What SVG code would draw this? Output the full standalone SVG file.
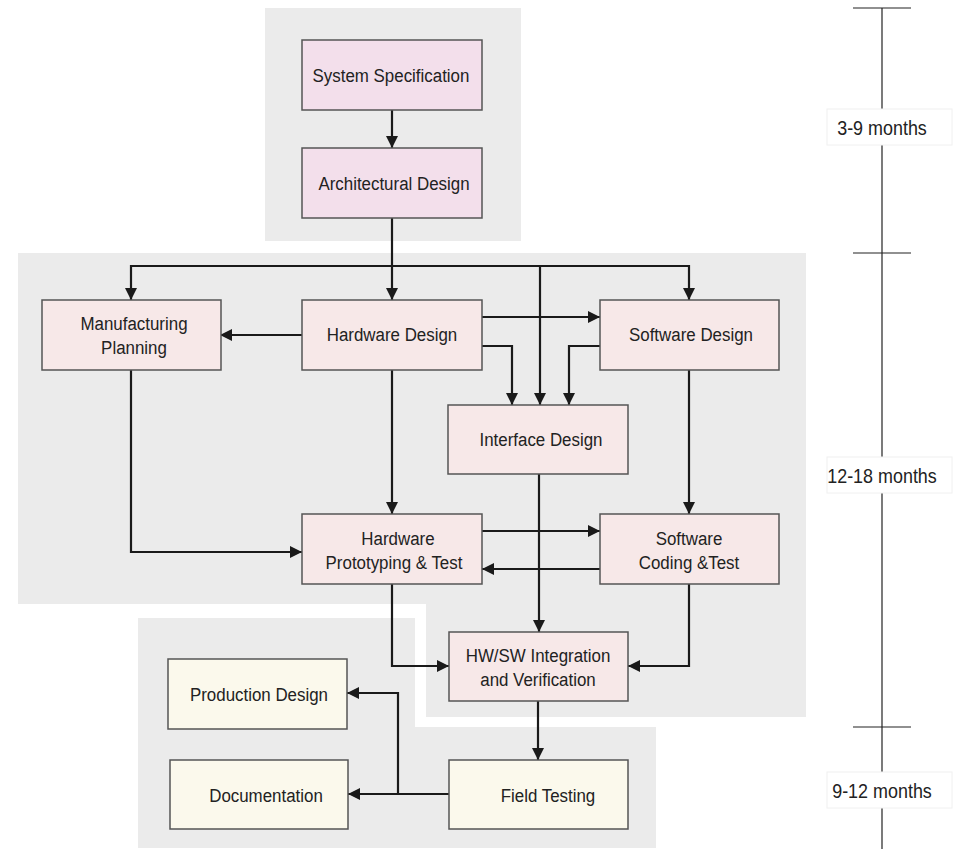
<svg xmlns="http://www.w3.org/2000/svg" width="953" height="849" viewBox="0 0 953 849">
<style>
.bg{fill:#ebebeb;stroke:none}
.n rect{stroke:#555;stroke-width:1.5}
.p1{fill:#f3dfeb}
.p2{fill:#f7e8e8}
.p3{fill:#fbf9ec}
text{font-family:"Liberation Sans",Arial,sans-serif;font-size:19px;fill:#222;text-anchor:middle;transform-box:fill-box;transform-origin:center;transform:scale(0.89,1)}
.c path{fill:none;stroke:#1a1a1a;stroke-width:2.2}
.tl line{stroke:#222;stroke-width:1.2}
.tl rect{fill:#fff;stroke:#f0f0f0;stroke-width:1}
.tl text{font-size:19.5px;transform:scale(0.92,1)}
</style>
<defs>
<marker id="a" markerUnits="userSpaceOnUse" markerWidth="12" markerHeight="12" refX="12" refY="6" orient="auto">
<path d="M0,0 L12,6 L0,12 Z" fill="#1a1a1a"/>
</marker>
</defs>
<g id="regions">
<rect class="bg" x="265" y="8" width="256" height="233"/>
<path class="bg" d="M18,253 H806 V717 H426 V604 H18 Z"/>
<path class="bg" d="M138,618 H415 V727 H656 V848 H138 Z"/>
</g>
<g id="timeline" class="tl">
<line x1="882" y1="8" x2="882" y2="849"/>
<line x1="853" y1="8" x2="911" y2="8"/>
<line x1="853" y1="253" x2="911" y2="253"/>
<line x1="853" y1="727" x2="911" y2="727"/>
<rect x="827" y="109" width="125" height="36"/>
<text x="882" y="135">3-9 months</text>
<rect x="827" y="457" width="125" height="36"/>
<text x="882" y="483">12-18 months</text>
<rect x="827" y="772" width="125" height="36"/>
<text x="882" y="798">9-12 months</text>
</g>
<g id="connectors" class="c">
<path d="M392,110 V148" marker-end="url(#a)"/>
<path d="M392,218 V300" marker-end="url(#a)"/>
<path d="M392,266 H131 V300" marker-end="url(#a)"/>
<path d="M392,266 H689 V300" marker-end="url(#a)"/>
<path d="M540,266 V405" marker-end="url(#a)"/>
<path d="M482,317 H600" marker-end="url(#a)"/>
<path d="M482,346 H512 V405" marker-end="url(#a)"/>
<path d="M600,346 H569 V405" marker-end="url(#a)"/>
<path d="M302,335 H220" marker-end="url(#a)"/>
<path d="M131,370 V552 H302" marker-end="url(#a)"/>
<path d="M392,370 V514" marker-end="url(#a)"/>
<path d="M689,370 V514" marker-end="url(#a)"/>
<path d="M539,474 V632" marker-end="url(#a)"/>
<path d="M482,531 H600" marker-end="url(#a)"/>
<path d="M600,569 H482" marker-end="url(#a)"/>
<path d="M392,584 V666 H449" marker-end="url(#a)"/>
<path d="M689,584 V666 H628" marker-end="url(#a)"/>
<path d="M538,701 V760" marker-end="url(#a)"/>
<path d="M449,794 H348" marker-end="url(#a)"/>
<path d="M398,794 V693 H347" marker-end="url(#a)"/>
</g>
<g id="system-specification" class="n"><rect class="p1" x="302" y="40" width="180" height="70"/><text x="391" y="82">System Specification</text></g>
<g id="architectural-design" class="n"><rect class="p1" x="302" y="148" width="180" height="70"/><text x="394" y="190">Architectural Design</text></g>
<g id="manufacturing-planning" class="n"><rect class="p2" x="42" y="300" width="179" height="70"/><text x="134" y="330">Manufacturing</text><text x="134" y="354">Planning</text></g>
<g id="hardware-design" class="n"><rect class="p2" x="302" y="300" width="180" height="70"/><text x="392" y="341">Hardware Design</text></g>
<g id="software-design" class="n"><rect class="p2" x="600" y="300" width="179" height="70"/><text x="691" y="341">Software Design</text></g>
<g id="interface-design" class="n"><rect class="p2" x="448" y="405" width="180" height="69"/><text x="541" y="446">Interface Design</text></g>
<g id="hardware-prototyping" class="n"><rect class="p2" x="302" y="514" width="180" height="70"/><text x="398" y="545">Hardware</text><text x="394" y="569">Prototyping &amp; Test</text></g>
<g id="software-coding" class="n"><rect class="p2" x="600" y="514" width="179" height="70"/><text x="689" y="545">Software</text><text x="689" y="569">Coding &amp;Test</text></g>
<g id="hwsw-integration" class="n"><rect class="p2" x="449" y="632" width="179" height="69"/><text x="538" y="662">HW/SW Integration</text><text x="538" y="686">and Verification</text></g>
<g id="production-design" class="n"><rect class="p3" x="168" y="659" width="179" height="70"/><text x="259" y="701">Production Design</text></g>
<g id="documentation" class="n"><rect class="p3" x="170" y="760" width="178" height="69"/><text x="266" y="802">Documentation</text></g>
<g id="field-testing" class="n"><rect class="p3" x="449" y="760" width="179" height="69"/><text x="548" y="802">Field Testing</text></g>
</svg>
